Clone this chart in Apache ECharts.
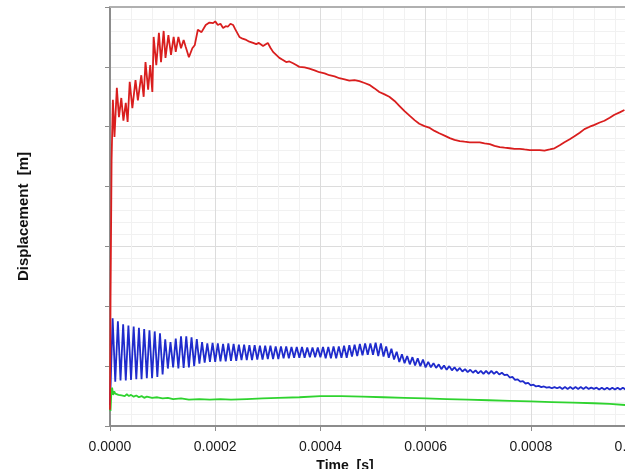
<!DOCTYPE html>
<html>
<head>
<meta charset="utf-8">
<script src="https://cdn.jsdelivr.net/npm/echarts@6/dist/echarts.min.js"></script>
<style>
  html, body { margin: 0; padding: 0; background: #fff; }
  #chart { width: 625px; height: 469px; }
</style>
</head>
<body>
<div id="chart"></div>
<script>
// time in microseconds, displacement in grid units (y labels are blank in the source)
var xTicks = [0, 200, 400, 600, 800, 1000];

var redT = [0, 1, 3, 5.5, 8.5, 13, 17, 21.5, 25.5, 30, 33.5, 37.5, 42.5, 48.5, 53, 59.5, 64, 67.5, 72.5, 76.5,
  80.5, 83, 88, 93, 97, 102, 105.5, 111, 116, 121, 125, 130, 135, 140, 144, 150, 156.5, 161, 167, 174,
  182, 189, 196, 200, 205, 210, 215, 220, 224, 229, 234, 238, 241, 246, 252, 259, 265, 272, 278, 283,
  291, 300, 305, 310, 316, 322, 328, 335, 341, 348, 354, 360, 370, 379, 389, 398, 408, 417, 427, 436,
  446, 455, 465, 474, 484, 493, 503, 512, 522, 531, 541, 550, 560, 570, 579, 588, 598, 608, 617, 626,
  636, 646, 655, 665, 674, 684, 693, 703, 712, 722, 731, 741, 750, 760, 769, 779, 788, 798, 807, 817,
  826, 836, 845, 855, 864, 874, 883, 893, 902, 912, 921, 931, 940, 950, 959, 969, 978];
var redV = [0.27, 2.10, 4.44, 5.45, 4.83, 5.65, 5.16, 5.48, 5.10, 5.40, 5.08, 5.75, 5.31, 5.78, 5.44, 5.86, 5.50, 6.08, 5.62, 6.03,
  5.58, 6.50, 6.03, 6.57, 6.08, 6.60, 6.15, 6.53, 6.20, 6.50, 6.25, 6.50, 6.31, 6.45, 6.33, 6.16, 6.31, 6.36, 6.62, 6.58,
  6.70, 6.74, 6.73, 6.76, 6.70, 6.72, 6.65, 6.68, 6.67, 6.72, 6.70, 6.63, 6.62, 6.50, 6.47, 6.45, 6.42, 6.40, 6.38, 6.40,
  6.35, 6.40, 6.32, 6.25, 6.20, 6.15, 6.12, 6.08, 6.09, 6.06, 6.03, 6.00, 5.99, 5.97, 5.94, 5.91, 5.89, 5.86, 5.84, 5.81,
  5.79, 5.77, 5.78, 5.76, 5.73, 5.70, 5.64, 5.58, 5.54, 5.50, 5.43, 5.35, 5.26, 5.18, 5.11, 5.05, 5.01, 4.98, 4.93, 4.89,
  4.85, 4.81, 4.78, 4.76, 4.75, 4.74, 4.74, 4.74, 4.72, 4.71, 4.68, 4.66, 4.65, 4.64, 4.63, 4.63, 4.62, 4.61, 4.61, 4.61,
  4.60, 4.62, 4.64, 4.69, 4.74, 4.79, 4.84, 4.90, 4.96, 5.00, 5.03, 5.07, 5.10, 5.15, 5.20, 5.24, 5.28];

// blue samples every 5 us starting at t = 0
var blueStep = 5;
var blueV = [0.35,
  1.80, 0.74, 1.75, 0.76, 1.70, 0.76, 1.68, 0.77, 1.66, 0.78,
  1.64, 0.78, 1.62, 0.80, 1.60, 0.80, 1.58, 0.82, 1.55, 0.86,
  1.45, 0.96, 1.40, 0.98, 1.46, 0.96, 1.50, 0.97, 1.50, 0.98,
  1.48, 1.00, 1.45, 1.04, 1.40, 1.06, 1.38, 1.07, 1.39, 1.07,
  1.38, 1.08, 1.37, 1.08, 1.38, 1.09, 1.37, 1.09, 1.36, 1.10,
  1.36, 1.10, 1.35, 1.10, 1.35, 1.11, 1.34, 1.11, 1.34, 1.12,
  1.34, 1.12, 1.33, 1.12, 1.33, 1.13, 1.33, 1.13, 1.32, 1.14,
  1.32, 1.14, 1.32, 1.14, 1.31, 1.15, 1.31, 1.15, 1.31, 1.15,
  1.32, 1.13, 1.32, 1.13, 1.33, 1.13, 1.33, 1.14, 1.34, 1.14,
  1.35, 1.16, 1.36, 1.17, 1.37, 1.18, 1.38, 1.19, 1.38, 1.19,
  1.39, 1.17, 1.38, 1.16, 1.33, 1.14, 1.29, 1.11, 1.24, 1.07,
  1.20, 1.05, 1.17, 1.03, 1.15, 1.01, 1.13, 1.00, 1.11, 0.98,
  1.07, 0.98, 1.05, 0.97, 1.03, 0.95, 1.01, 0.94, 1.00, 0.93,
  0.98, 0.92, 0.97, 0.91, 0.95, 0.90, 0.94, 0.89, 0.93, 0.88,
  0.92, 0.87, 0.92, 0.87, 0.92, 0.87, 0.91, 0.86, 0.89, 0.85,
  0.86, 0.81, 0.82, 0.77, 0.78, 0.74, 0.75, 0.71, 0.72, 0.68,
  0.69, 0.66, 0.67, 0.65, 0.66, 0.64, 0.65, 0.63, 0.65, 0.63,
  0.65, 0.62, 0.65, 0.62, 0.65, 0.62, 0.65, 0.62, 0.65, 0.62,
  0.65, 0.62, 0.64, 0.62, 0.64, 0.61, 0.64, 0.61, 0.64, 0.61,
  0.64, 0.61, 0.64, 0.61, 0.64, 0.61];

var greenT = [0, 1, 2.5, 4, 6, 8, 10, 13, 16, 19, 22, 25, 28, 32, 36, 40, 45, 50, 55, 60,
  65, 70, 80, 90, 100, 110, 120, 135, 150, 170, 190, 210, 230, 260, 290, 320, 360, 400, 440, 480,
  520, 560, 600, 640, 680, 720, 760, 800, 840, 880, 920, 950, 980];
var greenV = [0.30, 0.25, 0.55, 0.64, 0.52, 0.58, 0.54, 0.57, 0.52, 0.55, 0.51, 0.54, 0.50, 0.53, 0.50, 0.52, 0.49, 0.51, 0.48, 0.50,
  0.47, 0.49, 0.47, 0.48, 0.46, 0.47, 0.45, 0.46, 0.44, 0.45, 0.44, 0.45, 0.44, 0.45, 0.46, 0.47, 0.48, 0.50, 0.50, 0.49,
  0.48, 0.47, 0.46, 0.45, 0.44, 0.43, 0.42, 0.41, 0.40, 0.39, 0.38, 0.37, 0.35];

function pairs(t, v) {
  return t.map(function (x, i) { return [x, v[i]]; });
}
var redData = pairs(redT, redV);
var blueData = blueV.map(function (v, i) { return [i * blueStep, v]; });
var greenData = pairs(greenT, greenV);

var chart = echarts.init(document.getElementById('chart'));

var option = {
  animation: false,
  backgroundColor: '#fff',
  grid: { left: 110, top: 7, width: 526, height: 419, containLabel: false, outerBoundsMode: 'none' },
  xAxis: [{
    type: 'value',
    min: xTicks[0],
    max: xTicks[xTicks.length - 1],
    interval: xTicks[1] - xTicks[0],
    name: 'Time  [s]',
    nameLocation: 'middle',
    nameGap: 28,
    nameTextStyle: { fontFamily: 'Liberation Sans', fontSize: 14, fontWeight: 'bold', color: '#111', padding: [0, 56, 0, 0] },
    axisLine: { lineStyle: { color: '#8c8c8c', width: 2 } },
    axisTick: { show: true, length: 5, lineStyle: { color: '#8c8c8c' } },
    axisLabel: {
      margin: 14,
      fontFamily: 'Liberation Sans', fontSize: 14, color: '#1a1a1a',
      formatter: function (v) { return (v / 1e6).toFixed(4); }
    },
    splitLine: { show: true, lineStyle: { color: '#dcdcdc', width: 1 } },
    minorTick: { show: false, splitNumber: 5 },
    minorSplitLine: { show: true, lineStyle: { color: '#f1f1f1', width: 1 } }
  }, {
    type: 'value',
    position: 'top',
    min: xTicks[0],
    max: xTicks[xTicks.length - 1],
    axisLine: { lineStyle: { color: '#b0b0b0', width: 2 } },
    axisTick: { show: false },
    axisLabel: { show: false },
    splitLine: { show: false }
  }],
  yAxis: {
    type: 'value',
    min: 0,
    max: 7,
    interval: 1,
    name: 'Displacement  [m]',
    nameLocation: 'middle',
    nameGap: 79,
    nameTextStyle: { fontFamily: 'Liberation Sans', fontSize: 15, fontWeight: 'bold', color: '#111' },
    axisLine: { show: true, lineStyle: { color: '#8c8c8c', width: 2 } },
    axisTick: { show: true, length: 5, lineStyle: { color: '#8c8c8c' } },
    axisLabel: { show: false },
    splitLine: { show: true, lineStyle: { color: '#dcdcdc', width: 1 } },
    minorTick: { show: false, splitNumber: 5 },
    minorSplitLine: { show: true, lineStyle: { color: '#f1f1f1', width: 1 } }
  },
  series: [
    {
      name: 'blue', type: 'line', data: blueData, showSymbol: false, symbol: 'none',
      lineStyle: { color: '#1f2bcc', width: 1.8 }, z: 2
    },
    {
      name: 'green', type: 'line', data: greenData, showSymbol: false, symbol: 'none',
      lineStyle: { color: '#2fd32f', width: 1.8 }, z: 3
    },
    {
      name: 'red', type: 'line', data: redData, showSymbol: false, symbol: 'none',
      lineStyle: { color: '#d91e1e', width: 1.8 }, z: 4
    }
  ]
};

chart.setOption(option);
</script>
</body>
</html>
